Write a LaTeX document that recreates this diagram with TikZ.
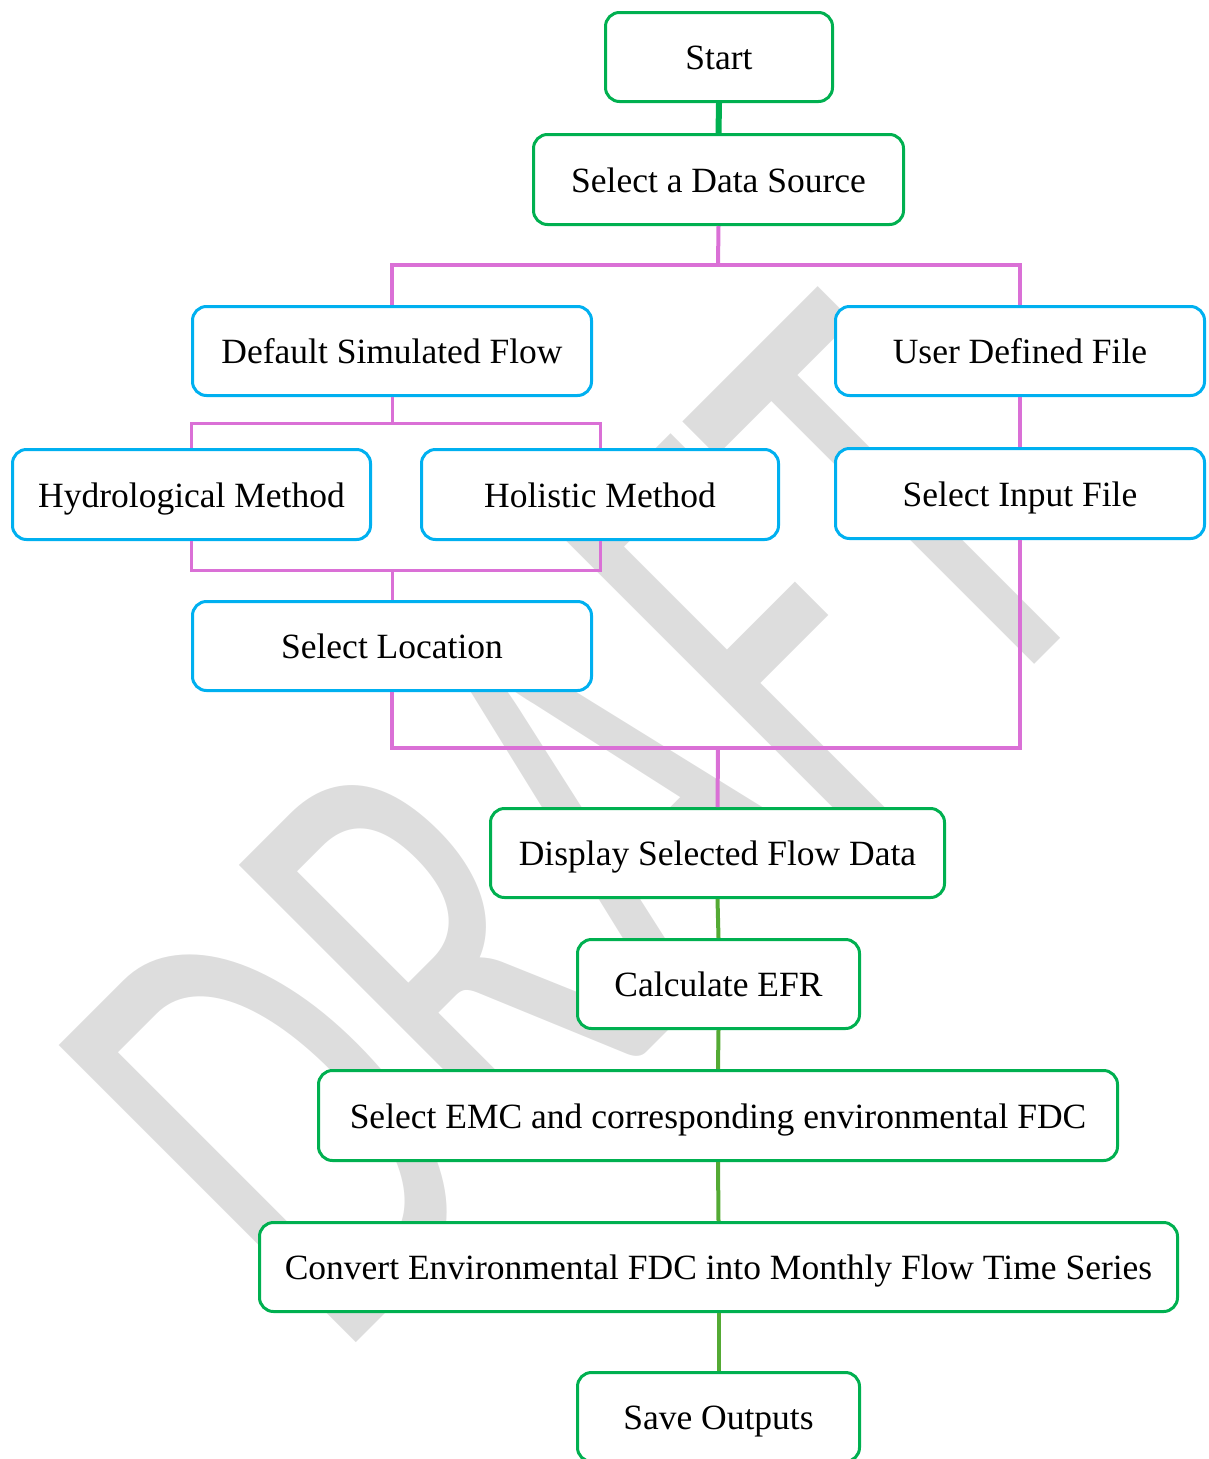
\documentclass[tikz,border=0pt]{standalone}
\usepackage{fontspec}
\setmainfont{Liberation Serif}
\newfontfamily\wmfont{Carlito}

\definecolor{boxgreen}{RGB}{0,176,80}
\definecolor{boxblue}{RGB}{0,176,240}
\definecolor{linkpink}{RGB}{218,112,214}
\definecolor{linkgreen}{RGB}{84,170,52}
\definecolor{wmgray}{RGB}{221,221,221}

\begin{document}
\begin{tikzpicture}[x=1pt,y=-1pt,
  flowbox/.style={draw, fill=white, rounded corners=14pt, line width=3pt,
    inner sep=0pt, align=center, text height=25pt, text depth=0pt,
    font=\fontsize{35.5}{40}\selectfont},
  greenbox/.style={flowbox, draw=boxgreen},
  bluebox/.style={flowbox, draw=boxblue},
  boxsize/.style 2 args={minimum width=#1, minimum height=#2},
  pinkwide/.style={draw=linkpink, line width=4pt},
  pinknarrow/.style={draw=linkpink, line width=3pt},
  greenlink/.style={draw=linkgreen, line width=4pt},
  greenwide/.style={draw=boxgreen, line width=6pt},
]
\useasboundingbox (0,0) rectangle (1208,1459);

% watermark behind everything
\node[rotate=45, anchor=base west, inner sep=0pt, text=wmgray,
      font=\wmfont\fontsize{655}{655}\selectfont] (wm) at (336,1363)
  {\scalebox{0.63}[1]{DRAFT}};

% junction points of the branching lines
\coordinate (j1) at (718,265);
\coordinate (j2) at (392,423);
\coordinate (j3) at (392,570);
\coordinate (j4) at (718,748);

% flow boxes
\node[greenbox, boxsize={227}{89}] (start)    at (719,57)     {Start};
\node[greenbox, boxsize={370}{90}] (source)   at (718.5,179.5) {Select a Data Source};
\node[bluebox,  boxsize={399}{89}] (default)  at (392,351)    {Default Simulated Flow};
\node[bluebox,  boxsize={369}{89}] (user)     at (1020,351)   {User Defined File};
\node[bluebox,  boxsize={358}{90}] (hydro)    at (191.5,494.5) {Hydrological Method};
\node[bluebox,  boxsize={357}{90}] (holistic) at (600,494.5)  {Holistic Method};
\node[bluebox,  boxsize={369}{90}] (input)    at (1020,493.5) {Select Input File};
\node[bluebox,  boxsize={399}{89}] (location) at (392,646)    {Select Location};
\node[greenbox, boxsize={454}{89}] (display)  at (717.5,853)  {Display Selected Flow Data};
\node[greenbox, boxsize={282}{89}] (calc)     at (718.5,984)  {Calculate EFR};
\node[greenbox, boxsize={799}{90}] (emc)      at (718,1115.5) {Select EMC and corresponding environmental FDC};
\node[greenbox, boxsize={918}{89}] (convert)  at (718.5,1267) {Convert Environmental FDC into Monthly Flow Time Series};
\node[greenbox, boxsize={282}{89}] (save)     at (718.5,1417) {Save Outputs};

% data source branches
\draw[pinkwide] (source.south) -- (j1);
\draw[pinkwide] (default.north) -- (default.north |- j1) -- (user.north |- j1) -- (user.north);
% method branches
\draw[pinknarrow] (default.south) -- (j2);
\draw[pinknarrow] (hydro.north) -- (hydro.north |- j2) -- (holistic.north |- j2) -- (holistic.north);
\draw[pinknarrow] (hydro.south) -- (hydro.south |- j3) -- (holistic.south |- j3) -- (holistic.south);
\draw[pinknarrow] (j3) -- (location.north);
% user file branch
\draw[pinkwide] (user.south) -- (input.north);
% merge into the display step
\draw[pinkwide] (location.south) -- (location.south |- j4) -- (input.south |- j4) -- (input.south);
\draw[pinkwide] (j4) -- (display.north);

% main sequence
\draw[greenwide] (start.south) -- (source.north);
\draw[greenlink] (display.south) -- (calc.north);
\draw[greenlink] (calc.south) -- (emc.north);
\draw[greenlink] (emc.south) -- (convert.north);
\draw[greenlink] (convert.south) -- (save.north);
\end{tikzpicture}
\end{document}
